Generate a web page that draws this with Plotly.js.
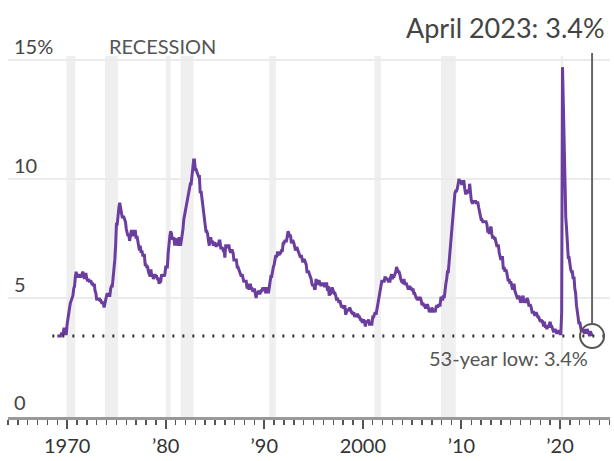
<!DOCTYPE html>
<html>
<head>
<meta charset="utf-8">
<script src="https://cdn.plot.ly/plotly-3.0.1.min.js"></script>
<style>html,body{margin:0;padding:0;background:#fff;}#chart{width:614px;height:461px;}</style>
</head>
<body>
<div id="chart"></div>
<script>
// Monthly U.S. unemployment rate (%), Jan 1969 – Apr 2023
const startYear = 1969;
const rate1969_1979 = [
 3.4,3.4,3.4,3.4,3.4,3.5,3.5,3.5,3.7,3.7,3.5,3.5,
 3.9,4.2,4.4,4.6,4.8,4.9,5.0,5.1,5.4,5.5,5.9,6.1,
 5.9,5.9,6.0,5.9,5.9,5.9,6.0,6.1,6.0,5.8,6.0,6.0,
 5.8,5.7,5.8,5.7,5.7,5.7,5.6,5.6,5.5,5.6,5.3,5.2,
 4.9,5.0,4.9,5.0,4.9,4.9,4.8,4.8,4.8,4.6,4.8,4.9,
 5.1,5.2,5.1,5.1,5.1,5.4,5.5,5.5,5.9,6.0,6.6,7.2,
 8.1,8.1,8.6,8.8,9.0,8.8,8.6,8.4,8.4,8.4,8.3,8.2,
 7.9,7.7,7.6,7.7,7.4,7.6,7.8,7.8,7.6,7.7,7.8,7.8,
 7.5,7.6,7.4,7.2,7.0,7.2,6.9,7.0,6.8,6.8,6.8,6.4,
 6.4,6.3,6.3,6.1,6.0,5.9,6.2,5.9,6.0,5.8,5.9,6.0,
 5.9,5.9,5.8,5.8,5.6,5.7,5.7,6.0,5.9,6.0,5.9,6.0
];
const rate1980_1989 = [
 6.3,6.3,6.3,6.9,7.5,7.6,7.8,7.7,7.5,7.5,7.5,7.2,
 7.5,7.4,7.4,7.2,7.5,7.5,7.2,7.4,7.6,7.9,8.3,8.5,
 8.6,8.9,9.0,9.3,9.4,9.6,9.8,9.8,10.1,10.4,10.8,10.8,
 10.4,10.4,10.3,10.2,10.1,10.1,9.4,9.5,9.2,8.8,8.5,8.3,
 8.0,7.8,7.8,7.7,7.4,7.2,7.5,7.5,7.3,7.4,7.2,7.3,
 7.3,7.2,7.2,7.3,7.2,7.4,7.4,7.1,7.1,7.1,7.0,7.0,
 6.7,7.2,7.2,7.1,7.2,7.2,7.0,6.9,7.0,7.0,6.9,6.6,
 6.6,6.6,6.6,6.3,6.3,6.2,6.1,6.0,5.9,6.0,5.8,5.7,
 5.7,5.7,5.7,5.4,5.6,5.4,5.4,5.6,5.4,5.4,5.3,5.3,
 5.4,5.2,5.0,5.2,5.2,5.3,5.2,5.2,5.3,5.3,5.4,5.4
];
const rate1990_1999 = [
 5.4,5.3,5.2,5.4,5.4,5.2,5.5,5.7,5.9,5.9,6.2,6.3,
 6.4,6.6,6.8,6.7,6.9,6.9,6.8,6.9,6.9,7.0,7.0,7.3,
 7.3,7.4,7.4,7.4,7.6,7.8,7.7,7.6,7.6,7.3,7.4,7.4,
 7.3,7.1,7.0,7.1,7.1,7.0,6.9,6.8,6.7,6.8,6.6,6.5,
 6.6,6.6,6.5,6.4,6.1,6.1,6.1,6.0,5.9,5.8,5.6,5.5,
 5.6,5.4,5.4,5.8,5.6,5.6,5.7,5.7,5.6,5.5,5.6,5.6,
 5.6,5.5,5.5,5.6,5.6,5.3,5.5,5.1,5.2,5.2,5.4,5.4,
 5.3,5.2,5.2,5.1,4.9,5.0,4.9,4.8,4.9,4.7,4.6,4.7,
 4.6,4.6,4.7,4.3,4.4,4.5,4.5,4.5,4.6,4.5,4.4,4.4,
 4.3,4.4,4.2,4.3,4.2,4.3,4.3,4.2,4.2,4.1,4.1,4.0
];
const rate2000_2009 = [
 4.0,4.1,4.0,3.8,4.0,4.0,4.0,4.1,3.9,3.9,3.9,3.9,
 4.2,4.2,4.3,4.4,4.3,4.5,4.6,4.9,5.0,5.3,5.5,5.7,
 5.7,5.7,5.7,5.9,5.8,5.8,5.8,5.7,5.7,5.7,5.9,6.0,
 5.8,5.9,5.9,6.0,6.1,6.3,6.2,6.1,6.1,6.0,5.8,5.7,
 5.7,5.6,5.8,5.6,5.6,5.6,5.5,5.4,5.4,5.5,5.4,5.4,
 5.3,5.4,5.2,5.2,5.1,5.0,5.0,4.9,5.0,5.0,5.0,4.9,
 4.7,4.8,4.7,4.7,4.6,4.6,4.7,4.7,4.5,4.4,4.5,4.4,
 4.6,4.5,4.4,4.5,4.4,4.6,4.7,4.6,4.7,4.7,4.7,5.0,
 5.0,4.9,5.1,5.0,5.4,5.6,5.8,6.1,6.1,6.5,6.8,7.3,
 7.8,8.3,8.7,9.0,9.4,9.5,9.5,9.6,9.8,10.0,9.9,9.9
];
const rate2010_2019 = [
 9.8,9.8,9.9,9.9,9.6,9.4,9.4,9.5,9.5,9.4,9.8,9.3,
 9.1,9.0,9.0,9.1,9.0,9.1,9.0,9.0,9.0,8.8,8.6,8.5,
 8.3,8.3,8.2,8.2,8.2,8.2,8.2,8.1,7.8,7.8,7.7,7.9,
 8.0,7.7,7.5,7.6,7.5,7.5,7.3,7.2,7.2,7.2,6.9,6.7,
 6.6,6.7,6.7,6.2,6.3,6.1,6.2,6.1,5.9,5.7,5.8,5.6,
 5.7,5.5,5.4,5.4,5.6,5.3,5.2,5.1,5.0,5.0,5.1,5.0,
 4.8,4.9,5.0,5.1,4.8,4.9,4.8,4.9,5.0,4.9,4.7,4.7,
 4.7,4.6,4.4,4.4,4.4,4.3,4.3,4.4,4.3,4.2,4.2,4.1,
 4.0,4.1,4.0,4.0,3.8,4.0,3.8,3.8,3.7,3.8,3.8,3.9,
 4.0,3.8,3.8,3.7,3.6,3.6,3.7,3.6,3.5,3.6,3.6,3.6
];
const rate2020_2023 = [
 3.5,3.5,4.4,14.7,13.2,11.0,10.2,8.4,7.9,6.9,6.7,6.7,
 6.4,6.2,6.1,6.1,5.8,5.9,5.4,5.2,4.7,4.5,4.2,3.9,
 4.0,3.8,3.6,3.7,3.6,3.6,3.5,3.7,3.5,3.7,3.6,3.5,
 3.4,3.6,3.5,3.4
];

// Recessions (decimal years)
const recessionStart = [1969.92, 1973.83, 1980.0, 1981.5, 1990.5, 2001.17, 2007.92, 2020.08];
const recessionEnd   = [1970.83, 1975.17, 1980.5, 1982.83, 1991.17, 2001.83, 2009.42, 2020.33];

const xTickVals = [1970, 1980, 1990, 2000, 2010, 2020];
const xTickText = ['1970', '\u201980', '\u201990', '2000', '\u201910', '\u201920'];
const yTickVals = [0, 5, 10, 15];
const yTickText = ['0', '5', '10', '15%'];

const lowValue = 3.4;
const latestX = 2023.25;
const latestValue = 3.4;
const latestLabel = 'April 2023: 3.4%';
const lowLabel = '53-year low: 3.4%';

const rates = [].concat(rate1969_1979, rate1980_1989, rate1990_1999, rate2000_2009, rate2010_2019, rate2020_2023);
const xs = rates.map((_, i) => startYear + i / 12);

const FONT = 'Lato, "Open Sans", sans-serif';
const pxPerUnit = 23.8;

const shapes = [];
recessionStart.forEach((s, i) => {
  shapes.push({type: 'rect', xref: 'x', yref: 'y', x0: s, x1: recessionEnd[i], y0: 0, y1: 15.17,
    fillcolor: '#efefef', line: {width: 0}, layer: 'below'});
});
// dotted low line
shapes.push({type: 'line', xref: 'x', yref: 'y', x0: 1968.5, x1: 2024.55, y0: lowValue, y1: lowValue,
  line: {color: '#333', width: 3, dash: '2px,8px'}, layer: 'above'});
// circle at latest value
shapes.push({type: 'circle', xref: 'x', yref: 'y', xsizemode: 'pixel', ysizemode: 'pixel',
  xanchor: latestX, yanchor: latestValue, x0: -12, x1: 12, y0: -12, y1: 12,
  line: {color: '#555', width: 2}, layer: 'above'});
// vertical leader line
shapes.push({type: 'line', xref: 'x', yref: 'y', x0: latestX, x1: latestX,
  y0: latestValue + 12 / pxPerUnit, y1: 15.29, line: {color: '#666', width: 2}, layer: 'above'});

const annotations = [];
yTickVals.forEach((v, i) => {
  annotations.push({xref: 'paper', yref: 'y', x: 0.006, y: v, xanchor: 'left', yanchor: 'bottom',
    text: yTickText[i], showarrow: false, font: {family: FONT, size: 20, color: '#444'}, yshift: v === 0 ? 1 : 0});
});
annotations.push({xref: 'paper', yref: 'y', x: 0.1645, y: 15, xanchor: 'left', yanchor: 'bottom',
  text: 'RECESSION', showarrow: false, font: {family: FONT, size: 20, color: '#555'}});
annotations.push({xref: 'paper', yref: 'paper', x: 0.995, y: 1.06, xanchor: 'right', yanchor: 'middle',
  text: latestLabel, showarrow: false, font: {family: FONT, size: 27, color: '#444'}});
annotations.push({xref: 'paper', yref: 'y', x: 0.967, y: 2.48, xanchor: 'right', yanchor: 'middle',
  text: lowLabel, showarrow: false, font: {family: FONT, size: 20, color: '#555'}});

const trace = {
  x: xs, y: rates, type: 'scatter', mode: 'lines',
  line: {color: '#6a3d9e', width: 3}, hoverinfo: 'skip'
};

const layout = {
  width: 614, height: 461,
  margin: {l: 8, r: 4, t: 50, b: 44, pad: 0},
  paper_bgcolor: '#fff', plot_bgcolor: '#fff',
  showlegend: false,
  xaxis: {
    range: [1964.0, 2025.07], tickmode: 'array', tickvals: xTickVals, ticktext: xTickText,
    ticks: 'outside', ticklen: 9, tickwidth: 2, tickcolor: '#555',
    showline: true, linecolor: '#999', linewidth: 3,
    showgrid: false, zeroline: false,
    minor: {tick0: 1970, dtick: 1, ticks: 'outside', ticklen: 5, tickwidth: 1.5, tickcolor: '#555', showgrid: false},
    tickfont: {family: FONT, size: 20, color: '#333'}, fixedrange: true
  },
  yaxis: {
    range: [0, 15.42], tickmode: 'array', tickvals: [5, 10, 15],
    showticklabels: false, ticks: '', showgrid: true, gridcolor: '#ebebeb', gridwidth: 2,
    zeroline: false, showline: false, fixedrange: true
  },
  shapes: shapes,
  annotations: annotations
};

Plotly.newPlot('chart', [trace], layout, {displayModeBar: false, staticPlot: true});
</script>
</body>
</html>
